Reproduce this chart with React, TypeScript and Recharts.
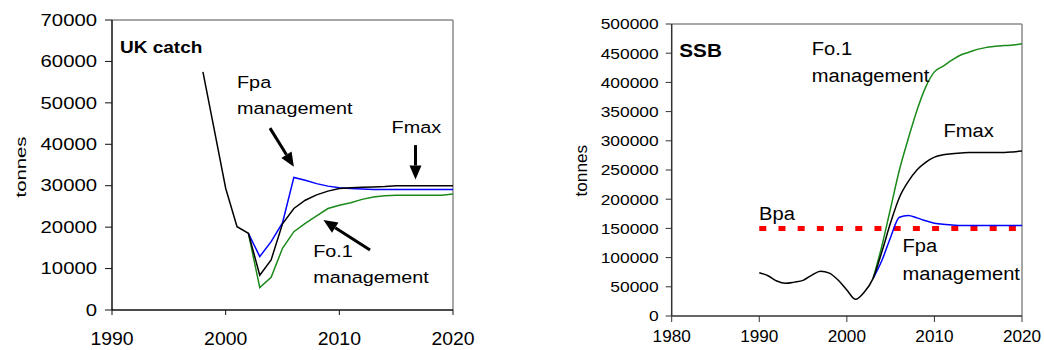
import React from "react";
import {
  LineChart,
  Line,
  XAxis,
  YAxis,
  ReferenceLine,
  ReferenceDot
} from "recharts";

const FONT = "'Liberation Sans', Arial, sans-serif";

// UK catch (tonnes)
const catchYears = [
  1998, 1999, 2000, 2001, 2002, 2003, 2004, 2005, 2006, 2007, 2008, 2009,
  2010, 2011, 2012, 2013, 2014, 2015, 2016, 2017, 2018, 2019, 2020
];
const catchHistory = [57500, 43500, 29400, 20100, 18500]; // 1998-2002
const catchFpa = [
  12900, 16500, 21000, 32000, 31300, 30500, 29900, 29500, 29300, 29200, 29100,
  29100, 29100, 29100, 29100, 29100, 29100, 29100
]; // 2003-2020
const catchFmax = [
  8400, 12100, 20800, 24500, 26500, 27800, 28700, 29300, 29500, 29600, 29700,
  29800, 30000, 30000, 30000, 30000, 30000, 30000
];
const catchFo1 = [
  5400, 7900, 14900, 18900, 20900, 22700, 24500, 25300, 25900, 26700, 27300,
  27600, 27700, 27700, 27700, 27700, 27700, 28000
];
const catchYTicks = [0, 10000, 20000, 30000, 40000, 50000, 60000, 70000];
const catchXTicks = [1990, 2000, 2010, 2020];

// SSB (tonnes)
const ssbYears = [
  1990, 1991, 1992, 1993, 1994, 1995, 1996, 1997, 1998, 1999, 2000, 2001,
  2002, 2003, 2004, 2005, 2006, 2007, 2008, 2009, 2010, 2011, 2012, 2013,
  2014, 2015, 2016, 2017, 2018, 2019, 2020
];
const ssbHistory = [
  74000, 69000, 60000, 56000, 58000, 61000, 70000, 76500, 73500, 61500,
  44500, 28500, 41000, 64500
]; // 1990-2003
const ssbFo1 = [
  120000, 185000, 250000, 303000, 352000, 392000, 418000, 428000, 438000,
  447000, 452000, 457000, 460000, 462000, 463000, 464000, 466000
]; // 2004-2020
const ssbFmax = [
  110000, 160000, 203000, 230000, 250000, 263000, 272000, 276000, 278000,
  279000, 280000, 280000, 280000, 280000, 280000, 281000, 282500
];
const ssbFpa = [
  95000, 135000, 169000, 172000, 168000, 163000, 159000, 157000, 156000,
  155000, 155000, 155000, 155000, 155000, 155000, 155000, 155000
];
const bpa = 150000;
const ssbYTicks = [
  0, 50000, 100000, 150000, 200000, 250000, 300000, 350000, 400000, 450000,
  500000
];
const ssbXTicks = [1980, 1990, 2000, 2010, 2020];

const nHist = catchHistory.length;
const catchData = catchYears.map((year, i) => {
  const h = i < nHist ? catchHistory[i] : null;
  const j = i - nHist;
  return {
    year,
    fpa: j >= 0 ? catchFpa[j] : i === nHist - 1 ? h : null,
    fo1: j >= 0 ? catchFo1[j] : i === nHist - 1 ? h : null,
    fmax: j >= 0 ? catchFmax[j] : h
  };
});

const sHist = ssbHistory.length;
const ssbData = ssbYears.map((year, i) => {
  const h = i < sHist ? ssbHistory[i] : null;
  const j = i - sHist;
  return {
    year,
    bpa,
    fpa: j >= 0 ? ssbFpa[j] : i === sHist - 1 ? h : null,
    fo1: j >= 0 ? ssbFo1[j] : i === sHist - 1 ? h : null,
    fmax: j >= 0 ? ssbFmax[j] : h
  };
});

function Tick(props: any) {
  const { x, y, payload, fs, sx, anchor } = props;
  return (
    <text
      transform={`translate(${x},${y}) scale(${sx},1)`}
      textAnchor={anchor}
      dy="0.36em"
      fontSize={fs}
      fontFamily={FONT}
      fill="#000"
    >
      {payload.value}
    </text>
  );
}

function note(lines: string[], fs: number, sx: number, bold = false, gap = 26) {
  return (p: any) => (
    <text
      transform={`translate(${p.cx},${p.cy}) scale(${sx},1)`}
      fontSize={fs}
      fontFamily={FONT}
      fontWeight={bold ? "bold" : "normal"}
      fill="#000"
    >
      {lines.map((l, i) => (
        <tspan key={i} x={0} dy={i === 0 ? 0 : gap}>
          {l}
        </tspan>
      ))}
    </text>
  );
}

function Arrow(p: any) {
  const { x1, y1, x2, y2 } = p;
  const dx = x2 - x1;
  const dy = y2 - y1;
  const len = Math.sqrt(dx * dx + dy * dy) || 1;
  const ux = dx / len;
  const uy = dy / len;
  const hl = 14;
  const hw = 6;
  const bx = x2 - ux * hl;
  const by = y2 - uy * hl;
  return (
    <g>
      <line x1={x1} y1={y1} x2={bx} y2={by} stroke="#000" strokeWidth={3} />
      <polygon
        points={`${x2},${y2} ${bx - uy * hw},${by + ux * hw} ${bx + uy * hw},${by - ux * hw}`}
        fill="#000"
      />
    </g>
  );
}

function YLabel({ cx, cy, fs, sx }: any) {
  return (
    <text
      transform={`translate(${cx},${cy}) rotate(-90) scale(${sx},1)`}
      textAnchor="middle"
      dy="0.36em"
      fontSize={fs}
      fontFamily={FONT}
      fill="#000"
    >
      tonnes
    </text>
  );
}

function CatchChart() {
  return (
    <LineChart
      width={500}
      height={350}
      data={catchData}
      margin={{ top: 20, right: 47, bottom: 0, left: 0 }}
    >
      <XAxis
        dataKey="year"
        type="number"
        domain={[1990, 2020]}
        ticks={catchXTicks}
        height={40}
        tickSize={5}
        tickMargin={23}
        tick={<Tick fs={18.5} sx={1.05} anchor="middle" />}
        axisLine={{ stroke: "#111", strokeWidth: 1.5 }}
        tickLine={{ stroke: "#111" }}
        allowDataOverflow
      />
      <YAxis
        domain={[0, 70000]}
        ticks={catchYTicks}
        width={112}
        tickSize={7}
        tickMargin={8}
        tick={<Tick fs={16} sx={1.27} anchor="end" />}
        axisLine={{ stroke: "#111", strokeWidth: 1.5 }}
        tickLine={{ stroke: "#111" }}
        allowDataOverflow
      />
      <ReferenceLine y={70000} stroke="#8a8a8a" strokeWidth={1.5} />
      <ReferenceLine x={2020} stroke="#8a8a8a" strokeWidth={1.5} />
      <Line type="linear" dataKey="fo1" stroke="#1a8a1a" strokeWidth={1.5} dot={false} isAnimationActive={false} />
      <Line type="linear" dataKey="fpa" stroke="#0000ff" strokeWidth={1.5} dot={false} isAnimationActive={false} />
      <Line type="linear" dataKey="fmax" stroke="#000" strokeWidth={1.5} dot={false} isAnimationActive={false} />
      <ReferenceDot x={1990.7} y={62000} r={0} ifOverflow="visible" shape={note(["UK catch"], 17, 1.12, true)} />
      <ReferenceDot x={2001} y={53500} r={0} ifOverflow="visible" shape={note(["Fpa", "management"], 16.5, 1.2)} />
      <ReferenceDot x={2014.6} y={42650} r={0} ifOverflow="visible" shape={note(["Fmax"], 16.5, 1.2)} />
      <ReferenceDot x={2007.7} y={12900} r={0} ifOverflow="visible" shape={note(["Fo.1", "management"], 16.5, 1.2)} />
      <ReferenceLine segment={[{ x: 2003.9, y: 43900 }, { x: 2006.0, y: 34600 }]} shape={Arrow} ifOverflow="visible" />
      <ReferenceLine segment={[{ x: 2016.7, y: 39800 }, { x: 2016.7, y: 31500 }]} shape={Arrow} ifOverflow="visible" />
      <ReferenceLine segment={[{ x: 2012.7, y: 14500 }, { x: 2008.6, y: 21700 }]} shape={Arrow} ifOverflow="visible" />
    </LineChart>
  );
}

function SsbChart() {
  return (
    <LineChart
      width={504}
      height={350}
      data={ssbData}
      margin={{ top: 24, right: 22, bottom: 0, left: 0 }}
    >
      <XAxis
        dataKey="year"
        type="number"
        domain={[1980, 2020]}
        ticks={ssbXTicks}
        height={34}
        tickSize={6}
        tickMargin={14}
        tick={<Tick fs={16.5} sx={1.04} anchor="middle" />}
        axisLine={{ stroke: "#333", strokeWidth: 1.5 }}
        tickLine={{ stroke: "#333" }}
        allowDataOverflow
      />
      <YAxis
        domain={[0, 500000]}
        ticks={ssbYTicks}
        width={131.7}
        tickSize={6}
        tickMargin={7}
        tick={<Tick fs={15} sx={1.16} anchor="end" />}
        axisLine={{ stroke: "#333", strokeWidth: 1.5 }}
        tickLine={{ stroke: "#333" }}
        allowDataOverflow
      />
      <ReferenceLine y={500000} stroke="#8a8a8a" strokeWidth={1.5} />
      <ReferenceLine x={2020} stroke="#8a8a8a" strokeWidth={1.5} />
      <Line type="linear" dataKey="bpa" stroke="#ff0000" strokeWidth={5} strokeDasharray="7 12.2" dot={false} isAnimationActive={false} />
      <Line type="monotone" dataKey="fo1" stroke="#1a8a1a" strokeWidth={1.5} dot={false} isAnimationActive={false} />
      <Line type="monotone" dataKey="fpa" stroke="#0000ff" strokeWidth={1.5} dot={false} isAnimationActive={false} />
      <Line type="monotone" dataKey="fmax" stroke="#000" strokeWidth={1.5} dot={false} isAnimationActive={false} />
      <ReferenceDot x={1980.87} y={443000} r={0} ifOverflow="visible" shape={note(["SSB"], 18, 1.15, true)} />
      <ReferenceDot x={1996} y={447000} r={0} ifOverflow="visible" shape={note(["Fo.1", "management"], 19, 1.06, false, 26.7)} />
      <ReferenceDot x={2011.04} y={307000} r={0} ifOverflow="visible" shape={note(["Fmax"], 19, 1.06)} />
      <ReferenceDot x={1989.98} y={164400} r={0} ifOverflow="visible" shape={note(["Bpa"], 19, 1.06)} />
      <ReferenceDot x={2006.35} y={109000} r={0} ifOverflow="visible" shape={note(["Fpa", "management"], 19, 1.06, false, 27.7)} />
    </LineChart>
  );
}

export default function App() {
  return (
    <div
      style={{
        position: "absolute",
        left: 0,
        top: 0,
        width: 1044,
        height: 350,
        background: "#fff",
        fontFamily: FONT
      }}
    >
      <div style={{ position: "absolute", left: 0, top: 0 }}>
        <CatchChart />
      </div>
      <svg style={{ position: "absolute", left: 0, top: 0 }} width={60} height={350}>
        <YLabel cx={20} cy={167} fs={15.4} sx={1.32} />
      </svg>
      <div style={{ position: "absolute", left: 540, top: 0 }}>
        <SsbChart />
      </div>
      <svg style={{ position: "absolute", left: 560, top: 0 }} width={40} height={350}>
        <YLabel cx={20.7} cy={170.7} fs={16.3} sx={1.06} />
      </svg>
    </div>
  );
}
